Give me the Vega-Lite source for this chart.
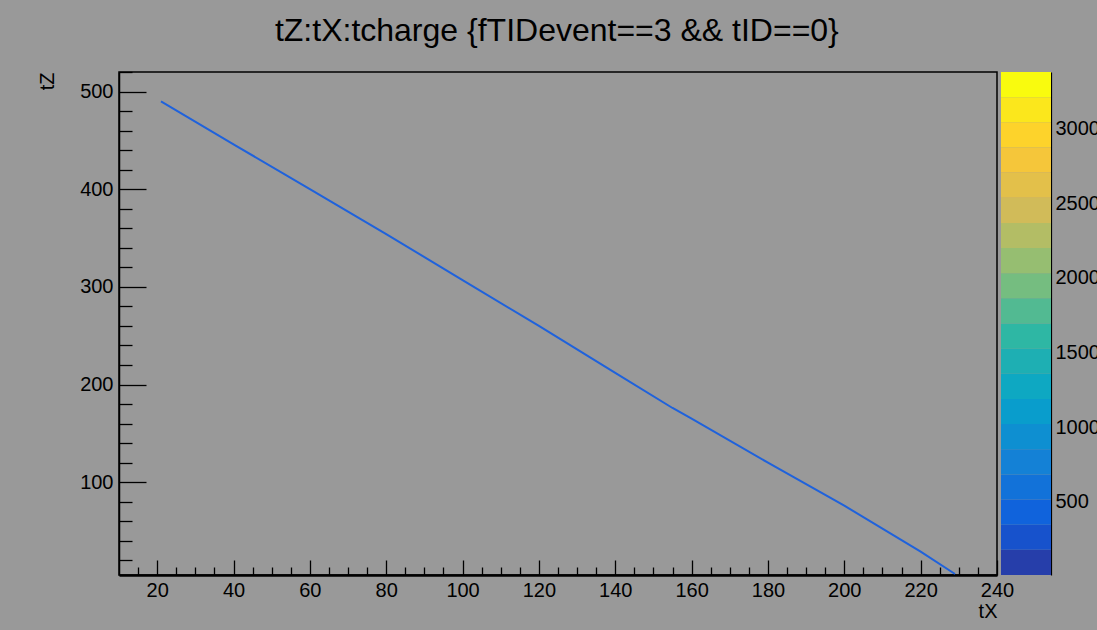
{
  "$schema": "https://vega.github.io/schema/vega-lite/v6.json",
  "background": "#999999",
  "padding": {"left": 36, "top": 14, "right": 1, "bottom": 10},
  "title": {
    "text": "tZ:tX:tcharge {fTIDevent==3 && tID==0}",
    "font": "Liberation Sans",
    "fontSize": 32,
    "fontWeight": "normal",
    "color": "#000000",
    "anchor": "middle",
    "offset": 23,
    "dx": -11
  },
  "config": {
    "font": "Liberation Sans",
    "axis": {"grid": false, "labelColor": "#000000", "titleColor": "#000000", "tickColor": "#000000", "domainColor": "#000000"}
  },
  "datasets": {
    "hits": [
      {"tX": 21, "tZ": 490},
      {"tX": 40, "tZ": 446},
      {"tX": 60, "tZ": 400},
      {"tX": 80, "tZ": 354},
      {"tX": 100, "tZ": 307},
      {"tX": 120, "tZ": 260},
      {"tX": 140, "tZ": 212},
      {"tX": 155, "tZ": 176},
      {"tX": 160, "tZ": 165},
      {"tX": 180, "tZ": 120},
      {"tX": 200, "tZ": 76},
      {"tX": 220, "tZ": 29},
      {"tX": 229, "tZ": 6}
    ],
    "palette": [
      {"level": 0, "lo": 10, "hi": 178.5},
      {"level": 1, "lo": 178.5, "hi": 347},
      {"level": 2, "lo": 347, "hi": 515.5},
      {"level": 3, "lo": 515.5, "hi": 684},
      {"level": 4, "lo": 684, "hi": 852.5},
      {"level": 5, "lo": 852.5, "hi": 1021},
      {"level": 6, "lo": 1021, "hi": 1189.5},
      {"level": 7, "lo": 1189.5, "hi": 1358},
      {"level": 8, "lo": 1358, "hi": 1526.5},
      {"level": 9, "lo": 1526.5, "hi": 1695},
      {"level": 10, "lo": 1695, "hi": 1863.5},
      {"level": 11, "lo": 1863.5, "hi": 2032},
      {"level": 12, "lo": 2032, "hi": 2200.5},
      {"level": 13, "lo": 2200.5, "hi": 2369},
      {"level": 14, "lo": 2369, "hi": 2537.5},
      {"level": 15, "lo": 2537.5, "hi": 2706},
      {"level": 16, "lo": 2706, "hi": 2874.5},
      {"level": 17, "lo": 2874.5, "hi": 3043},
      {"level": 18, "lo": 3043, "hi": 3211.5},
      {"level": 19, "lo": 3211.5, "hi": 3380}
    ]
  },
  "spacing": 4,
  "bounds": "flush",
  "hconcat": [
    {
      "width": 878,
      "height": 503,
      "view": {"stroke": "#000000", "strokeWidth": 1.5, "fill": null},
      "data": {"name": "hits"},
      "layer": [
        {
          "mark": {"type": "line", "color": "#1f62dc", "strokeWidth": 2, "clip": true},
          "encoding": {
            "x": {
              "field": "tX", "type": "quantitative",
              "scale": {"domain": [10, 240], "nice": false, "zero": false},
              "axis": {
                "orient": "bottom",
                "values": [20, 40, 60, 80, 100, 120, 140, 160, 180, 200, 220, 240],
                "tickSize": -15, "tickWidth": 1.3,
                "domainWidth": 2.5,
                "labelFont": "Liberation Sans", "labelFontSize": 20,
                "labelPadding": 20, "labelFlush": false, "labelOverlap": false,
                "title": "tX", "titleFont": "Liberation Sans", "titleFontSize": 20, "titleFontWeight": "normal",
                "titleX": 878, "titleY": 36, "titleAlign": "right", "titleBaseline": "middle", "titleAnchor": "end"
              }
            },
            "y": {
              "field": "tZ", "type": "quantitative",
              "scale": {"domain": [5, 520], "nice": false, "zero": false},
              "axis": {
                "orient": "left",
                "values": [100, 200, 300, 400, 500],
                "tickSize": -27, "tickWidth": 1.3,
                "domainWidth": 1.5,
                "labelFont": "Liberation Sans", "labelFontSize": 20,
                "labelPadding": 33, "labelFlush": false, "labelOverlap": false,
                "title": "tZ", "titleFont": "Liberation Sans", "titleFontSize": 20, "titleFontWeight": "normal",
                "titleX": -72, "titleY": 0, "titleAngle": 270, "titleAlign": "right", "titleBaseline": "middle", "titleAnchor": "end"
              }
            }
          }
        },
        {
          "mark": {"type": "line", "opacity": 0},
          "encoding": {
            "x": {
              "field": "tX", "type": "quantitative",
              "scale": {"domain": [10, 240], "nice": false, "zero": false},
              "axis": {
                "orient": "bottom",
                "values": [15, 25, 30, 35, 45, 50, 55, 65, 70, 75, 85, 90, 95, 105, 110, 115, 125, 130, 135, 145, 150, 155, 165, 170, 175, 185, 190, 195, 205, 210, 215, 225, 230, 235],
                "tickSize": -8, "tickWidth": 1.3,
                "domain": false, "labels": false, "title": null
              }
            },
            "y": {
              "field": "tZ", "type": "quantitative",
              "scale": {"domain": [5, 520], "nice": false, "zero": false},
              "axis": {
                "orient": "left",
                "values": [20, 40, 60, 80, 120, 140, 160, 180, 220, 240, 260, 280, 320, 340, 360, 380, 420, 440, 460, 480, 520],
                "tickSize": -13, "tickWidth": 1.3,
                "domain": false, "labels": false, "title": null
              }
            }
          }
        }
      ],
      "resolve": {"axis": {"x": "independent", "y": "independent"}}
    },
    {
      "width": 50,
      "height": 503,
      "view": {"stroke": null},
      "data": {"name": "palette"},
      "mark": {"type": "rect"},
      "encoding": {
        "y": {
          "field": "lo", "type": "quantitative",
          "scale": {"domain": [10, 3380], "nice": false, "zero": false},
          "axis": {
            "orient": "right",
            "values": [500, 1000, 1500, 2000, 2500, 3000],
            "format": "d",
            "tickSize": -28, "tickWidth": 1.3,
            "domainWidth": 1.2,
            "labelFont": "Liberation Sans", "labelFontSize": 20,
            "labelPadding": 32, "labelFlush": false, "labelOverlap": false,
            "title": null
          }
        },
        "y2": {"field": "hi"},
        "x": {"value": 0},
        "x2": {"value": 50},
        "color": {
          "field": "level", "type": "ordinal",
          "scale": {
            "domain": [0, 1, 2, 3, 4, 5, 6, 7, 8, 9, 10, 11, 12, 13, 14, 15, 16, 17, 18, 19],
            "range": ["#263eaa", "#1752cc", "#1063dc", "#1272d9", "#1481d6", "#0e8fd1", "#099dcc", "#0ea8c2", "#1eafb3", "#2eb7a4", "#52ba92", "#75bd80", "#96be71", "#b3bd65", "#d1bb59", "#e3c04a", "#f5c63a", "#fdd32b", "#fbe71c", "#f9fb0e"]
          },
          "legend": null
        }
      }
    }
  ]
}
